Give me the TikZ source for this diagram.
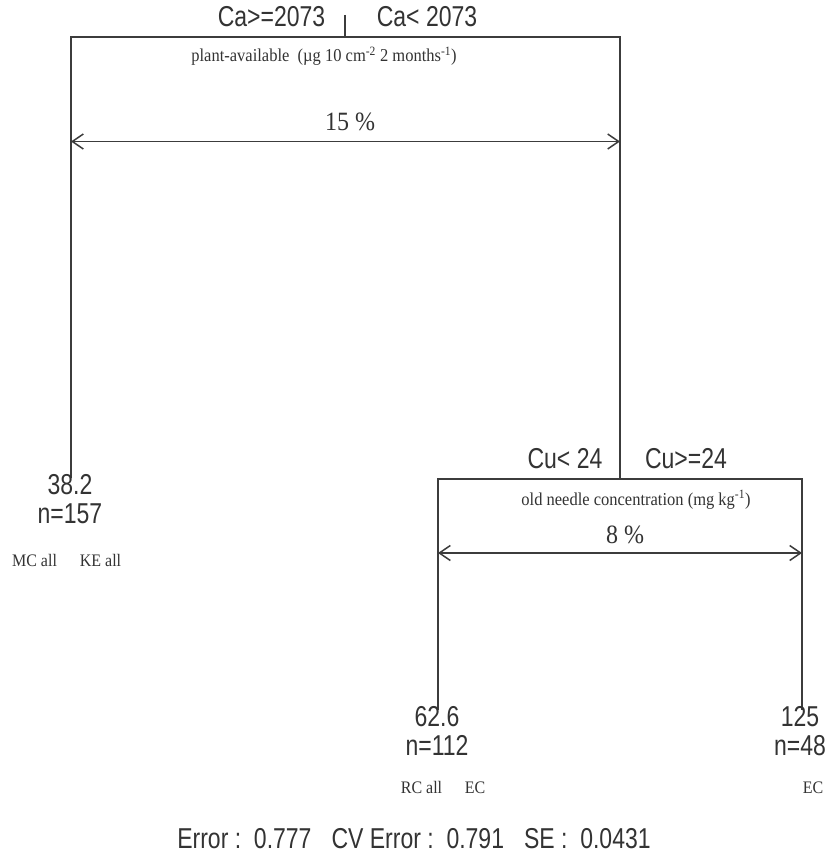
\documentclass[tikz,border=0pt]{standalone}
\usepackage{graphicx}
\usepackage{fontspec}
\setmainfont{Liberation Serif}
\setsansfont{Liberation Sans}
\usetikzlibrary{arrows.meta}
\definecolor{ln}{HTML}{3C3C3C}
\definecolor{tx}{HTML}{333333}
\newcommand\tsans[1]{\scalebox{1}[1.25]{#1}}
\newcommand\tserif[1]{\scalebox{1}[1.1]{#1}}
\tikzset{
  treeline/.style={draw=ln, line width=1.8pt},
  spanarrow/.style={draw=ln, line width=1.5pt, {Straight Barb[length=11pt,width=15pt]}-{Straight Barb[length=11pt,width=15pt]}},
  split/.style={anchor=base, inner sep=0pt, text=tx, font=\sffamily\fontsize{23}{23}\selectfont},
  leaf/.style={anchor=base, inner sep=0pt, text=tx, font=\sffamily\fontsize{23}{23}\selectfont},
  varlab/.style={anchor=base, inner sep=0pt, text=tx, font=\rmfamily\fontsize{16.5}{16.5}\selectfont},
  pct/.style={anchor=base, inner sep=0pt, text=tx, font=\rmfamily\fontsize{24}{24}\selectfont},
  grp/.style={anchor=base, inner sep=0pt, text=tx, font=\rmfamily\fontsize{16}{16}\selectfont}
}
\begin{document}
\begin{tikzpicture}[x=1pt,y=-1pt]
\useasboundingbox[fill=white] (0,0) rectangle (829,859);
% first split
\coordinate (t1) at (345,15);
\coordinate (s1) at (345,37);
\coordinate (s1L) at (71,37);
\coordinate (s1R) at (620,37);
\coordinate (leafA) at (71,478);
\coordinate (s2) at (620,479);
% second split
\coordinate (s2L) at (438,479);
\coordinate (s2R) at (802,479);
\coordinate (leafB) at (438,710);
\coordinate (leafC) at (802,710);
% arrow ends
\coordinate (a1L) at (71,141.5);
\coordinate (a1R) at (620,141.5);
\coordinate (a2L) at (438,553);
\coordinate (a2R) at (802,553);

\draw[treeline] (t1) -- (s1);
\draw[treeline] (leafA) -- (s1L) -- (s1R) -- (s2);
\draw[treeline] (leafB) -- (s2L) -- (s2R) -- (leafC);

\draw[spanarrow] (a1L) -- (a1R);
\draw[spanarrow] (a2L) -- (a2R);

% split labels
\node[split] (c1) at (271.5,27) {\tsans{Ca>=2073}};
\node[split] (c2) at (427,27) {\tsans{Ca< 2073}};
\node[varlab] (v1) at (324,62) {\tserif{plant-available\ \ (µg 10 cm\textsuperscript{-2} 2 months\textsuperscript{-1})}};
\node[pct] (p1) at (350,130) {\tserif{15 \%}};

\node[split] (c3) at (565,468) {\tsans{Cu< 24}};
\node[split] (c4) at (686,468) {\tsans{Cu>=24}};
\node[varlab] (v2) at (636,505) {\tserif{old needle concentration (mg kg\textsuperscript{-1})}};
\node[pct] (p2) at (625,543) {\tserif{8 \%}};

% leaves
\node[leaf] (m1) at (70,494) {\tsans{38.2}};
\node[leaf] (n1) at (70,523) {\tsans{n=157}};
\node[grp] (g1) at (34.5,566) {\tserif{MC all}};
\node[grp] (g2) at (100.5,566) {\tserif{KE all}};

\node[leaf] (m2) at (437,726) {\tsans{62.6}};
\node[leaf] (n2) at (437,755) {\tsans{n=112}};
\node[grp] (g3) at (421.5,793) {\tserif{RC all}};
\node[grp] (g4) at (475,793) {\tserif{EC}};

\node[leaf] (m3) at (800,726) {\tsans{125}};
\node[leaf] (n3) at (800,755) {\tsans{n=48}};
\node[grp] (g5) at (813,793) {\tserif{EC}};

\node[split] (err) at (414,848) {\tsans{Error :\ \ 0.777\hspace{20pt}CV Error :\ \ 0.791\hspace{20pt}SE :\ \ 0.0431}};
\end{tikzpicture}
\end{document}
